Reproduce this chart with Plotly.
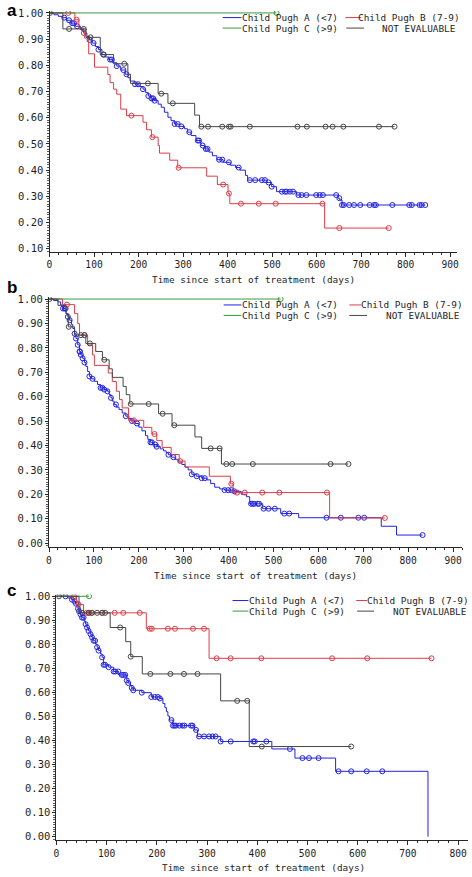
import bisect
import plotly.graph_objects as go

W, H = 472, 877

# ---------------- Panel a ----------------
a_A_t = [0,10,20,29,38,47,58,70,77,84,90,96,103,110,118,125,133,142,151,160,170,176,181,192,201,210,216,222,229,236,244,251,258,266,273,281,292,303,310,318,329,340,349,358,366,376,390,406,418,428,440,445,488,499,510,555,648,652,657]
a_A_s = [1.0,0.993,0.987,0.982,0.972,0.961,0.949,0.936,0.923,0.910,0.897,0.885,0.872,0.860,0.841,0.832,0.822,0.810,0.797,0.782,0.766,0.753,0.740,0.728,0.719,0.709,0.696,0.683,0.674,0.665,0.652,0.640,0.621,0.602,0.589,0.576,0.567,0.558,0.545,0.532,0.513,0.494,0.481,0.469,0.455,0.440,0.430,0.419,0.410,0.400,0.380,0.362,0.353,0.337,0.318,0.305,0.293,0.286,0.267]
a_A_c = [33,44,51,55,62,90,99,110,122,136,140,151,166,173,192,199,210,222,229,233,236,281,288,296,314,333,336,344,351,355,381,388,403,425,450,462,477,484,492,499,522,529,533,540,547,559,566,577,599,607,614,644,651,657,661,673,684,698,719,729,733,770,808,814,831,836,844]

a_B_t = [0,57,66,77,79,88,101,131,136,144,151,160,173,210,218,229,244,247,270,288,353,377,401,405,618]
a_B_s = [1.0,0.974,0.942,0.923,0.904,0.844,0.793,0.765,0.734,0.709,0.690,0.633,0.608,0.583,0.554,0.526,0.494,0.465,0.438,0.409,0.377,0.345,0.311,0.272,0.179]
a_B_c = [42,61,77,184,231,290,390,403,430,470,508,613,651,762]

a_C_t = [0]
a_C_s = [1.0]
a_C_c = [510]

a_N_t = [0,30,82,114,144,176,182,244,266,326,337]
a_N_s = [1.0,0.939,0.907,0.841,0.806,0.766,0.731,0.692,0.655,0.610,0.566]
a_N_c = [1,44,77,92,121,168,221,251,277,341,356,388,403,407,450,557,578,620,636,660,740,775]

# ---------------- Panel b ----------------
b_A_t = [0,10,20,26,31,38,42,46,50,53,57,60,64,68,71,75,79,82,86,90,95,101,108,115,123,130,134,138,141,145,150,156,163,171,178,185,192,200,207,215,220,226,233,240,248,255,261,266,273,281,288,296,303,310,318,328,340,351,360,369,380,391,413,428,440,447,476,516,556,740,774]
b_A_s = [1.0,0.994,0.988,0.975,0.961,0.940,0.927,0.913,0.896,0.879,0.858,0.838,0.812,0.785,0.771,0.757,0.740,0.724,0.703,0.683,0.673,0.663,0.650,0.636,0.629,0.622,0.608,0.595,0.582,0.568,0.557,0.547,0.533,0.520,0.510,0.500,0.490,0.475,0.460,0.440,0.425,0.413,0.404,0.395,0.386,0.378,0.370,0.362,0.352,0.343,0.332,0.322,0.311,0.300,0.282,0.274,0.266,0.259,0.244,0.229,0.222,0.217,0.212,0.200,0.190,0.161,0.141,0.121,0.104,0.069,0.033]
b_A_c = [31,35,37,42,46,57,60,64,68,69,71,75,79,90,97,115,119,123,130,138,149,171,185,196,226,229,237,240,266,277,318,329,340,347,391,399,406,413,450,454,457,465,468,478,489,503,524,535,618,650,689,702,832]

b_B_t = [0,30,57,64,68,86,97,101,132,141,150,157,163,177,211,229,240,252,272,290,303,357,404,410,625]
b_B_s = [1.0,0.977,0.940,0.899,0.852,0.812,0.771,0.728,0.697,0.662,0.622,0.588,0.554,0.503,0.474,0.447,0.420,0.392,0.363,0.336,0.312,0.274,0.243,0.207,0.103]
b_B_c = [40,79,189,235,292,406,419,436,475,513,619,748]

b_C_t = [0]
b_C_s = [1.0]
b_C_c = [516]

b_N_t = [0,20,38,43,57,82,104,119,134,141,165,172,180,244,274,325,340,384]
b_N_s = [1.0,0.974,0.940,0.886,0.852,0.818,0.785,0.751,0.714,0.679,0.642,0.608,0.570,0.530,0.483,0.435,0.388,0.324]
b_N_c = [1,44,71,79,91,123,182,222,253,279,360,380,395,408,454,627,667]

# ---------------- Panel c ----------------
c_A_t = [0,22,30,35,38,41,43,45,48,51,55,58,61,64,68,71,74,78,81,84,88,91,94,104,114,124,140,143,147,150,153,170,189,206,212,216,219,222,225,232,275,281,327,429,475,556,740]
c_A_s = [1.0,0.993,0.986,0.979,0.969,0.959,0.948,0.938,0.925,0.911,0.897,0.884,0.870,0.856,0.842,0.829,0.815,0.801,0.788,0.774,0.760,0.746,0.715,0.705,0.687,0.673,0.650,0.639,0.629,0.619,0.609,0.599,0.581,0.575,0.554,0.537,0.520,0.502,0.485,0.462,0.444,0.417,0.396,0.365,0.327,0.272,0.0]
c_A_c = [18,31,36,39,43,45,48,51,54,58,61,64,68,71,74,77,81,84,91,94,97,104,114,117,123,130,133,137,140,143,150,153,170,189,196,202,206,229,232,235,238,245,251,255,268,271,278,284,294,304,311,317,327,347,392,395,418,465,490,503,522,562,587,618,649]

c_B_t = [0,40,54,179,304]
c_B_s = [1.0,0.966,0.931,0.865,0.742]
c_B_c = [35,44,60,65,70,91,116,133,166,186,190,222,236,272,294,319,347,408,549,619,747]

c_C_t = [0]
c_C_s = [1.0]
c_C_c = [65]

c_N_t = [0,45,107,138,148,171,327,384]
c_N_s = [1.0,0.931,0.870,0.811,0.749,0.677,0.565,0.375]
c_N_c = [5,51,64,71,81,91,97,127,148,187,227,254,281,360,380,409,587]

group_names = ["Child Pugh A (<7)", "Child Pugh B (7-9)", "Child Pugh C (>9)", "NOT EVALUABLE"]
x_ticks_ab = [0,100,200,300,400,500,600,700,800,900]
x_ticks_c = [0,100,200,300,400,500,600,700,800]
y_ticks_a = [0.1,0.2,0.3,0.4,0.5,0.6,0.7,0.8,0.9,1.0]
y_ticks_bc = [0.0,0.1,0.2,0.3,0.4,0.5,0.6,0.7,0.8,0.9,1.0]
x_title = "Time since start of treatment (days)"

COLORS = ["rgb(35,35,225)", "rgb(222,60,72)", "rgb(55,155,60)", "rgb(70,70,70)"]
MONO = "DejaVu Sans Mono"

# pixel geometry of each panel (layout only)
panels = [
    dict(letter="a", groups=[(a_A_t,a_A_s,a_A_c),(a_B_t,a_B_s,a_B_c),(a_C_t,a_C_s,a_C_c),(a_N_t,a_N_s,a_N_c)],
         x0=47, x1=459, xmax=915.6, ytop=6, ybot=249, yr=[0.0887,1.0076], xt=x_ticks_ab, yt=y_ticks_a,
         title_xy=(253.5,277), letter_xy=(2,5.5), rows=(12.7,23.3),
         legA=(222,241,241), legB=(346,362,358), legC=(222,241,241), legN=(347,365,459)),
    dict(letter="b", groups=[(b_A_t,b_A_s,b_A_c),(b_B_t,b_B_s,b_B_c),(b_C_t,b_C_s,b_C_c),(b_N_t,b_N_s,b_N_c)],
         x0=46.5, x1=464, xmax=920, ytop=295, ybot=547, yr=[-0.016,1.007], xt=x_ticks_ab, yt=y_ticks_bc,
         title_xy=(255.5,576), letter_xy=(2,285.5), rows=(302.7,313.3),
         legA=(223,241,241), legB=(350,362,361), legC=(223,241,241), legN=(350,368,463)),
    dict(letter="c", groups=[(c_A_t,c_A_s,c_A_c),(c_B_t,c_B_s,c_B_c),(c_C_t,c_C_s,c_C_c),(c_N_t,c_N_s,c_N_c)],
         x0=54, x1=470, xmax=819.7, ytop=595, ybot=843, yr=[-0.015,1.007], xt=x_ticks_c, yt=y_ticks_bc,
         title_xy=(263.3,870), letter_xy=(2,590.5), rows=(601,611.7),
         legA=(232,248,248), legB=(357,368,367), legC=(232,248,248), legN=(358,375,470)),
]

def fx(p):
    return p / W

def fy(p):
    return 1 - p / H

fig = go.Figure()
annotations = []
shapes = []
layout_axes = {}

for i, P in enumerate(panels):
    k = "" if i == 0 else str(i + 1)
    xa, ya = "x" + k, "y" + k
    for g, (t, s, c) in enumerate(P["groups"]):
        end = max(t + c)
        xs = list(t)
        ys = list(s)
        if end > t[-1]:
            xs.append(end)
            ys.append(s[-1])
        fig.add_trace(go.Scatter(x=xs, y=ys, mode="lines", line=dict(color=COLORS[g], width=1, shape="hv"),
                                 xaxis=xa, yaxis=ya, showlegend=False, hoverinfo="skip"))
        cy = [s[max(0, bisect.bisect_right(t, v) - 1)] for v in c]
        fig.add_trace(go.Scatter(x=c, y=cy, mode="markers",
                                 marker=dict(symbol="circle-open", size=5, color=COLORS[g], line=dict(width=1, color=COLORS[g])),
                                 xaxis=xa, yaxis=ya, showlegend=False, hoverinfo="skip"))
    axcol = "rgb(40,40,40)"
    layout_axes["xaxis" + k] = dict(
        domain=[fx(P["x0"]), fx(P["x1"])], range=[0, P["xmax"]], anchor=ya,
        tickvals=P["xt"], ticktext=[str(v) for v in P["xt"]], ticks="outside", ticklen=4, tickwidth=1,
        tickcolor=axcol, showline=True, linecolor=axcol, linewidth=1, showgrid=False, zeroline=False,
        tickfont=dict(family=MONO, size=9.6, color="rgb(30,30,30)"),
        minor=dict(dtick=20, tick0=0, ticks="outside", ticklen=2, tickcolor=axcol, showgrid=False))
    layout_axes["yaxis" + k] = dict(
        domain=[fy(P["ybot"]), fy(P["ytop"])], range=P["yr"], anchor=xa,
        tickvals=P["yt"], ticktext=["%.2f" % v for v in P["yt"]], ticks="outside", ticklen=3, tickwidth=1,
        tickcolor=axcol, showline=True, linecolor=axcol, linewidth=1, showgrid=False, zeroline=False,
        tickfont=dict(family=MONO, size=10.5, color="rgb(30,30,30)"),
        minor=dict(dtick=0.01, tick0=0, ticks="outside", ticklen=2, tickcolor="rgb(90,90,90)", showgrid=False))

    # axis title
    tx, ty = P["title_xy"]
    annotations.append(dict(x=fx(tx), y=fy(ty), xref="paper", yref="paper", text=x_title, showarrow=False,
                            xanchor="center", yanchor="middle", font=dict(family=MONO, size=9.4, color="rgb(30,30,30)")))
    # panel letter
    lx, ly = P["letter_xy"]
    annotations.append(dict(x=fx(lx), y=fy(ly), xref="paper", yref="paper", text="<b>%s</b>" % P["letter"], showarrow=False,
                            xanchor="left", yanchor="middle", font=dict(family="Liberation Sans", size=17, color="black")))
    # legend
    r1, r2 = P["rows"]
    entries = [(P["legA"], r1, 0, "left"), (P["legB"], r1, 1, "left"), (P["legC"], r2, 2, "left"), (P["legN"], r2, 3, "right")]
    for (l0, l1, tpos), row, g, anc in entries:
        shapes.append(dict(type="line", xref="paper", yref="paper", x0=fx(l0), x1=fx(l1), y0=fy(row), y1=fy(row),
                           line=dict(color=COLORS[g], width=1)))
        annotations.append(dict(x=fx(tpos), y=fy(row), xref="paper", yref="paper", text=group_names[g], showarrow=False,
                                xanchor=anc, yanchor="middle", borderpad=0,
                                font=dict(family=MONO, size=9.4, color="rgb(30,30,30)")))

fig.update_layout(width=W, height=H, autosize=False, margin=dict(l=0, r=0, t=0, b=0),
                  paper_bgcolor="white", plot_bgcolor="white", showlegend=False,
                  annotations=annotations, shapes=shapes, **layout_axes)

fig.write_html("out.html", config={"displayModeBar": False},
               post_script="document.body.style.margin='0';document.body.style.overflow='hidden';")
